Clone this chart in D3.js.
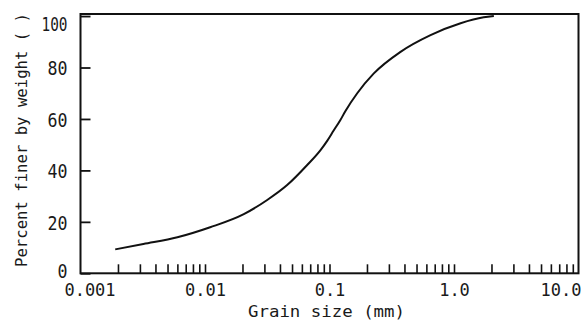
<!DOCTYPE html>
<html>
<head>
<meta charset="utf-8">
<script src="https://cdn.jsdelivr.net/npm/d3@7"></script>
<style>
  html, body { margin: 0; padding: 0; background: #fff; }
  svg { display: block; }
  text { font-family: "DejaVu Sans Mono", monospace; fill: #1a1a1a; }
</style>
</head>
<body>
<svg id="chart" width="587" height="320"></svg>
<script>
// ---- data ----
const grainSize = [0.0019, 0.0032, 0.006, 0.011, 0.0205, 0.0316, 0.0457, 0.0662, 0.0847, 0.0958, 0.108, 0.122, 0.134, 0.167, 0.227, 0.372, 0.648, 1.13, 1.73, 2.09];
const percentFiner = [9.3, 11.4, 14.0, 17.9, 23.0, 28.5, 34.3, 42.1, 47.9, 51.5, 55.5, 59.5, 63.0, 70.0, 77.7, 86.1, 92.6, 97.2, 99.5, 100];
const xMajorTicks = [0.001, 0.01, 0.1, 1, 10];
const xTickLabels = ["0.001", "0.01", "0.1", "1.0", "10.0"];
const xMinorTicks = [2,3,4,5,6,7,8,9].flatMap(m => [0.001, 0.01, 0.1, 1].map(d => +(m * d).toPrecision(3))).concat([0.01, 0.1, 1]);
const yTicks = [0, 20, 40, 60, 80, 100];
const yTickLabels = ["0", "20", "40", "60", "80", "100"];
const xTitle = "Grain size (mm)";
const yTitle = "Percent finer by weight (  )";

// ---- scales ----
const svg = d3.select("#chart");
const x = d3.scaleLog().domain([0.001, 10]).range([80.5, 578.5]);
const y = d3.scaleLinear().domain([0, 100.8]).range([273.3, 14]);

const [x0, x1] = x.range();
const [yb, yt] = y.range();

// minor ticks on x (inward)
const gMinor = svg.append("g").attr("transform", `translate(0,${yb})`)
  .call(d3.axisBottom(x).tickValues(xMinorTicks).tickSize(-9).tickFormat(""));
gMinor.select(".domain").remove();
gMinor.selectAll("line").attr("stroke", "#111").attr("stroke-width", 1.6);

// major x labels
const gX = svg.append("g").attr("transform", `translate(0,${yb})`)
  .call(d3.axisBottom(x).tickValues(xMajorTicks).tickSize(0).tickPadding(11)
    .tickFormat((d, i) => xTickLabels[i]));
gX.select(".domain").remove();
gX.selectAll("text")
  .attr("font-size", 17)
  .attr("font-family", "DejaVu Sans Mono")
  .attr("fill", "#1a1a1a")
  .attr("dx", (d, i) => i === 0 ? 9 : (i === xMajorTicks.length - 1 ? -18 : 0));

// y axis ticks (inward) and labels
const gY = svg.append("g").attr("transform", `translate(${x0},0)`)
  .call(d3.axisLeft(y).tickValues(yTicks).tickSize(-10).tickPadding(13)
    .tickFormat((d, i) => yTickLabels[i]));
gY.select(".domain").remove();
gY.selectAll("line").attr("stroke", "#111").attr("stroke-width", 1.8);
gY.selectAll("text")
  .attr("font-size", 20)
  .attr("font-family", "DejaVu Sans Mono")
  .attr("fill", "#1a1a1a")
  .attr("textLength", (d, i) => yTickLabels[i].length === 3 ? 26 : (yTickLabels[i].length === 2 ? 20 : 10))
  .attr("lengthAdjust", "spacingAndGlyphs")
  .attr("dy", (d, i) => i === yTicks.length - 1 ? "0.72em" : (i === 0 ? "0.2em" : "0.36em"));

// frame
svg.append("rect")
  .attr("x", x0).attr("y", yt)
  .attr("width", x1 - x0).attr("height", yb - yt)
  .attr("fill", "none").attr("stroke", "#111").attr("stroke-width", 2);

// curve
const line = d3.line()
  .x((d, i) => x(grainSize[i]))
  .y((d, i) => y(percentFiner[i]))
  .curve(d3.curveMonotoneX);
svg.append("path")
  .datum(percentFiner)
  .attr("d", line)
  .attr("fill", "none")
  .attr("stroke", "#111")
  .attr("stroke-width", 2);

// titles
svg.append("text")
  .attr("x", (x0 + x1) / 2 - 3).attr("y", 317)
  .attr("text-anchor", "middle")
  .attr("font-size", 16)
  .attr("textLength", 157).attr("lengthAdjust", "spacingAndGlyphs")
  .text(xTitle);

svg.append("text")
  .attr("transform", `translate(27,140) rotate(-90)`)
  .attr("text-anchor", "middle")
  .attr("font-size", 16)
  .attr("textLength", 254).attr("lengthAdjust", "spacingAndGlyphs")
  .text(yTitle);
</script>
</body>
</html>
